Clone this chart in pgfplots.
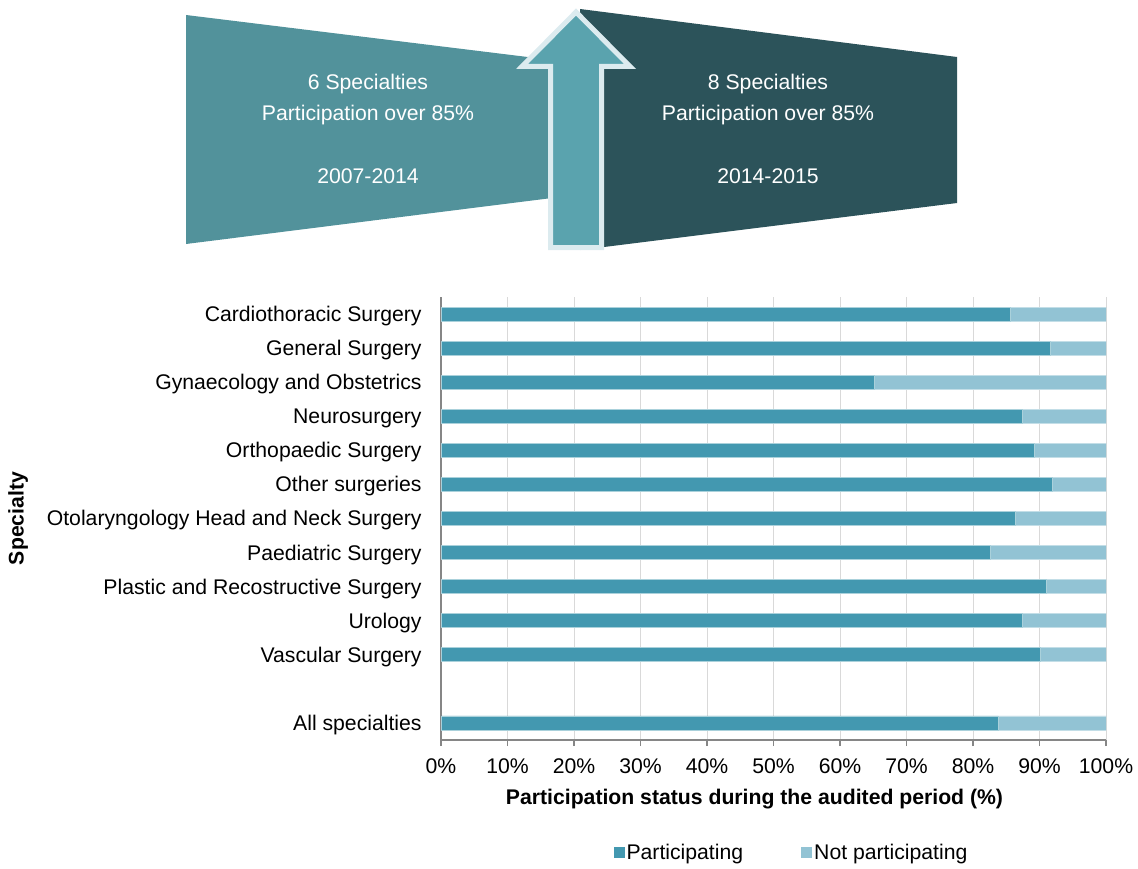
\documentclass[border=0pt]{standalone}
\usepackage{pgfplots}
\pgfplotsset{compat=1.18}
\usepackage{fontspec}
\setmainfont{Liberation Sans}

\definecolor{part}{HTML}{4398B0}
\definecolor{nonpart}{HTML}{92C3D4}
\definecolor{leftbox}{HTML}{52929B}
\definecolor{rightbox}{HTML}{2C535A}
\definecolor{arrowfill}{HTML}{5AA3AE}
\definecolor{arrowedge}{HTML}{DCEBEF}
\definecolor{axisgray}{HTML}{868686}
\definecolor{gridgray}{HTML}{D9D9D9}
\newcommand\chartfont{\fontsize{10.6}{12.7}\selectfont}

\begin{document}
\begin{tikzpicture}
% header graphic, in pixel units of the reference
\begin{scope}[x=0.5pt,y=-0.5pt]
\path[use as bounding box] (0,0) rectangle (1138,868);
\fill[leftbox] (186,15) -- (552,60) -- (552,198) -- (186,244) -- cycle;
\fill[rightbox] (580,9) -- (957,57) -- (957,203) -- (580,250) -- cycle;
\filldraw[fill=arrowfill, draw=arrowedge, line width=2.5pt, line join=miter]
  (550.5,247.5) -- (550.5,66.5) -- (522,66.5) -- (576,12) -- (630,66.5)
  -- (601.5,66.5) -- (601.5,247.5) -- cycle;
\begin{scope}[every node/.style={white, font=\chartfont, anchor=base, inner sep=0pt}]
\node at (368,89.5) {6 Specialties};
\node at (368,120.5) {Participation over 85\%};
\node at (368,183.5) {2007-2014};
\node at (768,89.5) {8 Specialties};
\node at (768,120.5) {Participation over 85\%};
\node at (768,183.5) {2014-2015};
\end{scope}
\coordinate (axsw) at (441,740);
\end{scope}

\begin{axis}[
  at={(axsw)}, anchor=south west,
  width=332.5pt, height=221.5pt, scale only axis,
  xbar stacked, bar width=7pt,
  xmin=0, xmax=100, ymin=-0.5, ymax=12.5, y dir=reverse,
  axis x line*=bottom, axis y line*=left,
  axis line style={axisgray, line width=0.75pt},
  tick align=outside, major tick length=3pt,
  xtick={0,10,...,100},
  xticklabels={0\%,10\%,20\%,30\%,40\%,50\%,60\%,70\%,80\%,90\%,100\%},
  xtick style={axisgray, line width=0.75pt},
  ytick={0,1,2,3,4,5,6,7,8,9,10,12},
  yticklabels={Cardiothoracic Surgery, General Surgery, Gynaecology and Obstetrics,
    Neurosurgery, Orthopaedic Surgery, Other surgeries,
    Otolaryngology Head and Neck Surgery, Paediatric Surgery,
    Plastic and Recostructive Surgery, Urology, Vascular Surgery, All specialties},
  ytick style={draw=none},
  xmajorgrids, grid style={gridgray, line width=0.5pt},
  /pgf/number format/assume math mode=true,
  tick label style={font=\chartfont},
  x tick label style={inner sep=0pt, anchor=north, yshift=-6pt},
  y tick label style={inner sep=0pt, anchor=east, xshift=-6.5pt, yshift=-1pt},
  xlabel={Participation status during the audited period (\%)},
  xlabel style={at={(axis description cs:0.4714,-0.1332)}, anchor=center, font=\chartfont\bfseries},
  ylabel={Specialty},
  ylabel style={at={(axis description cs:-0.636,0.5)}, anchor=center, font=\chartfont\bfseries},
  legend columns=2,
  legend image code/.code={\fill[#1, draw=none] (0pt,-2.75pt) rectangle (5.5pt,2.75pt);},
  legend style={at={(axis description cs:0.527,-0.255)}, anchor=center, draw=none,
    font=\chartfont, nodes={inner sep=1pt, anchor=west},
    /tikz/every even column/.append style={column sep=28pt}},
]
\addplot[fill=part, draw=part!45!white, line width=0.4pt] coordinates {
  (85.6,0) (91.6,1) (65.1,2) (87.5,3) (89.3,4) (92.0,5)
  (86.3,6) (82.6,7) (91.1,8) (87.4,9) (90.1,10) (83.8,12)
};
\addplot[fill=nonpart, draw=nonpart!55!white, line width=0.4pt] coordinates {
  (14.4,0) (8.4,1) (34.9,2) (12.5,3) (10.7,4) (8.0,5)
  (13.7,6) (17.4,7) (8.9,8) (12.6,9) (9.9,10) (16.2,12)
};
\legend{Participating, Not participating}
\end{axis}
\end{tikzpicture}
\end{document}
